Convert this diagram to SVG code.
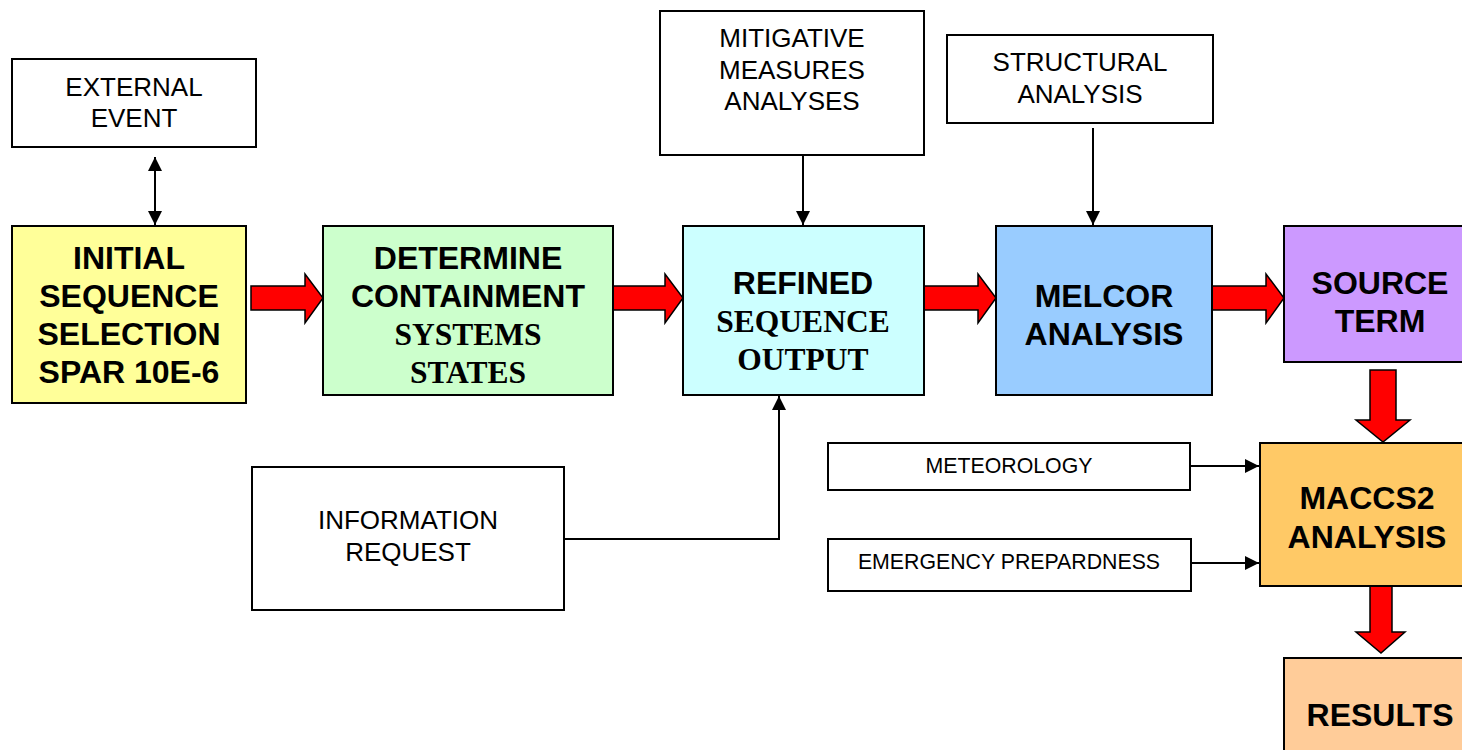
<svg xmlns="http://www.w3.org/2000/svg" width="1462" height="750" viewBox="0 0 1462 750">
<style>
.box{stroke:#000;stroke-width:2}
.w{fill:#fff}
.ba{font-family:"Liberation Sans",Arial,sans-serif;font-weight:bold;font-size:32px;fill:#000;text-anchor:middle}
.bt{font-family:"Liberation Serif","Times New Roman",serif;font-weight:bold;font-size:31.5px;fill:#000;text-anchor:middle}
.r{font-family:"Liberation Sans",Arial,sans-serif;font-size:26px;fill:#000;text-anchor:middle}
.s{font-family:"Liberation Sans",Arial,sans-serif;font-size:21.3px;fill:#000;text-anchor:middle}
.big{fill:#ff0000;stroke:#000;stroke-width:1.5;stroke-linejoin:miter}
.ln{fill:none;stroke:#000;stroke-width:2}
</style>
<defs>
<marker id="ah" viewBox="0 0 10 10" refX="10" refY="5" markerWidth="14" markerHeight="14" markerUnits="userSpaceOnUse" orient="auto-start-reverse">
<path d="M0,0 L10,5 L0,10 z" fill="#000"/>
</marker>
</defs>
<rect width="1462" height="750" fill="#fff"/>

<g id="connectors">
<line class="ln" x1="155" y1="157" x2="155" y2="225" marker-start="url(#ah)" marker-end="url(#ah)"/>
<line class="ln" x1="803" y1="155" x2="803" y2="225" marker-end="url(#ah)"/>
<line class="ln" x1="1093" y1="128" x2="1093" y2="225" marker-end="url(#ah)"/>
<polyline class="ln" points="564,539 779,539 779,396" marker-end="url(#ah)"/>
<line class="ln" x1="1187" y1="466" x2="1259" y2="466" marker-end="url(#ah)"/>
<line class="ln" x1="1187" y1="563" x2="1259" y2="563" marker-end="url(#ah)"/>
<polygon class="big" points="251,286 305,286 305,274 323,298 305,323 305,310 251,310"/>
<polygon class="big" points="613,286 665,286 665,274 683,298 665,323 665,310 613,310"/>
<polygon class="big" points="924,286 978,286 978,274 996,298 978,323 978,310 924,310"/>
<polygon class="big" points="1212,286 1266,286 1266,274 1284,298 1266,323 1266,310 1212,310"/>
<polygon class="big" points="1370,370 1396,370 1396,420 1410,420 1383,442 1356,420 1370,420"/>
<polygon class="big" points="1370,586 1392,586 1392,632 1405,632 1381,653 1356,632 1370,632"/>
</g>

<g id="external-event">
<rect class="box w" x="12" y="59" width="244" height="88"/>
<text class="r" x="134" y="96">EXTERNAL</text>
<text class="r" x="134" y="127">EVENT</text>
</g>

<g id="initial-sequence">
<rect class="box" fill="#ffff99" x="12" y="226" width="234" height="177"/>
<text class="ba" x="129" y="269">INITIAL</text>
<text class="ba" x="129" y="307">SEQUENCE</text>
<text class="ba" x="129" y="345">SELECTION</text>
<text class="ba" x="129" y="383">SPAR 10E-6</text>
</g>

<g id="determine-containment">
<rect class="box" fill="#ccffcc" x="323" y="226" width="290" height="169"/>
<text class="ba" x="468" y="269">DETERMINE</text>
<text class="ba" x="468" y="307">CONTAINMENT</text>
<text class="bt" x="468" y="345">SYSTEMS</text>
<text class="bt" x="468" y="383">STATES</text>
</g>

<g id="mitigative">
<rect class="box w" x="660" y="11" width="264" height="144"/>
<text class="r" x="792" y="47">MITIGATIVE</text>
<text class="r" x="792" y="79">MEASURES</text>
<text class="r" x="792" y="110">ANALYSES</text>
</g>

<g id="refined-sequence">
<rect class="box" fill="#ccffff" x="683" y="226" width="241" height="169"/>
<text class="ba" x="803" y="294">REFINED</text>
<text class="bt" x="803" y="332">SEQUENCE</text>
<text class="bt" x="803" y="370">OUTPUT</text>
</g>

<g id="structural">
<rect class="box w" x="947" y="35" width="266" height="88"/>
<text class="r" x="1080" y="71">STRUCTURAL</text>
<text class="r" x="1080" y="103">ANALYSIS</text>
</g>

<g id="melcor">
<rect class="box" fill="#99ccff" x="996" y="226" width="216" height="169"/>
<text class="ba" x="1104" y="307">MELCOR</text>
<text class="ba" x="1104" y="345">ANALYSIS</text>
</g>

<g id="source-term">
<rect class="box" fill="#cc99ff" x="1284" y="226" width="180" height="136"/>
<text class="ba" x="1380" y="294">SOURCE</text>
<text class="ba" x="1380" y="332">TERM</text>
</g>

<g id="information-request">
<rect class="box w" x="252" y="467" width="312" height="143"/>
<text class="r" x="408" y="529">INFORMATION</text>
<text class="r" x="408" y="561">REQUEST</text>
</g>

<g id="meteorology">
<rect class="box w" x="828" y="443" width="362" height="47"/>
<text class="s" x="1009" y="473">METEOROLOGY</text>
</g>

<g id="emergency">
<rect class="box w" x="828" y="539" width="363" height="52"/>
<text class="s" x="1009" y="569">EMERGENCY PREPARDNESS</text>
</g>

<g id="maccs2">
<rect class="box" fill="#ffc966" x="1260" y="443" width="204" height="143"/>
<text class="ba" x="1367" y="509">MACCS2</text>
<text class="ba" x="1367" y="548">ANALYSIS</text>
</g>

<g id="results">
<rect class="box" fill="#ffcc99" x="1284" y="658" width="180" height="100"/>
<text class="ba" x="1380" y="726">RESULTS</text>
</g>
</svg>
